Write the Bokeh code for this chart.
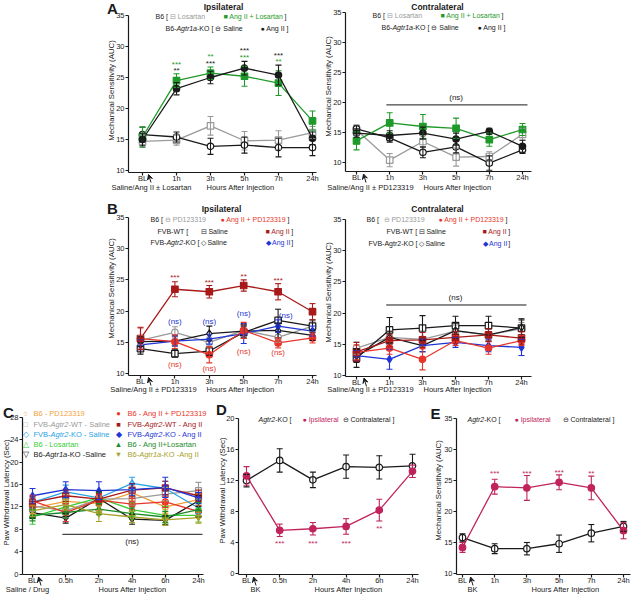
import math
from bokeh.plotting import figure
from bokeh.layouts import row, column
from bokeh.models import (ColumnDataSource, Whisker, TeeHead, Label, Arrow,
                          VeeHead, FixedTicker, Range1d)
from bokeh.embed import file_html
from bokeh.resources import INLINE

# ------------------------------------------------------------------ data
TICKS_AB = ["BL", "1h", "3h", "5h", "7h", "24h"]
TICKS_C = ["BL", "0.5h", "2h", "4h", "6h", "24h"]
YTICKS_AUC = [10, 15, 20, 25, 30, 35]
YTICKS_C = [0, 4, 8, 12, 16, 20, 24, 28]
YTICKS_D = [0, 4, 8, 12, 16, 20]

# A - ipsilateral
A_IPSI_LOSARTAN = [14.7, 14.9, 17.2, 14.8, 14.9, 16.1]
A_IPSI_LOSARTAN_SEM = [1.0, 0.8, 1.5, 1.5, 1.5, 1.0]
A_IPSI_ANG_LOS = [15.4, 24.5, 25.7, 25.2, 24.1, 18.0]
A_IPSI_ANG_LOS_SEM = [1.6, 1.1, 1.0, 1.6, 2.0, 1.6]
A_IPSI_KO_SALINE = [15.8, 15.4, 13.9, 14.1, 13.7, 13.7]
A_IPSI_KO_SALINE_SEM = [1.2, 0.8, 1.3, 1.3, 1.5, 1.3]
A_IPSI_KO_ANG = [15.0, 23.2, 25.0, 26.5, 25.4, 15.2]
A_IPSI_KO_ANG_SEM = [1.0, 1.0, 1.0, 1.1, 1.6, 1.0]
# A - contralateral
A_CONTRA_LOSARTAN = [15.4, 10.4, 13.5, 10.9, 11.0, 14.7]
A_CONTRA_LOSARTAN_SEM = [0.8, 1.1, 1.0, 1.5, 0.8, 1.0]
A_CONTRA_ANG_LOS = [13.6, 16.6, 16.0, 15.7, 13.8, 15.5]
A_CONTRA_ANG_LOS_SEM = [1.5, 1.7, 2.0, 1.7, 1.1, 1.0]
A_CONTRA_KO_SALINE = [15.6, 14.1, 11.7, 12.6, 9.9, 12.1]
A_CONTRA_KO_SALINE_SEM = [0.6, 0.7, 0.9, 1.0, 1.2, 0.6]
A_CONTRA_KO_ANG = [14.9, 14.5, 14.9, 13.9, 15.2, 12.7]
A_CONTRA_KO_ANG_SEM = [0.7, 0.8, 1.0, 1.0, 0.5, 1.0]

# B - ipsilateral
B_IPSI_PD = [15.3, 16.6, 15.0, 16.9, 15.8, 17.6]
B_IPSI_PD_SEM = [0.7, 0.9, 0.8, 1.0, 0.8, 0.8]
B_IPSI_ANG_PD = [15.6, 15.1, 13.0, 16.9, 14.9, 15.7]
B_IPSI_ANG_PD_SEM = [1.7, 1.1, 1.3, 1.3, 0.8, 0.8]
B_IPSI_WT_SALINE = [14.0, 13.2, 13.6, 16.6, 18.5, 17.6]
B_IPSI_WT_SALINE_SEM = [0.9, 0.6, 0.7, 1.0, 1.8, 1.0]
B_IPSI_WT_ANG = [15.6, 23.5, 23.1, 24.1, 23.1, 19.9]
B_IPSI_WT_ANG_SEM = [1.8, 1.2, 1.0, 0.9, 1.3, 1.3]
B_IPSI_KO_SALINE = [15.1, 15.2, 16.4, 16.8, 16.9, 16.1]
B_IPSI_KO_SALINE_SEM = [0.8, 0.8, 1.2, 1.0, 1.2, 0.8]
B_IPSI_KO_ANG = [14.6, 15.2, 15.5, 16.4, 17.6, 16.8]
B_IPSI_KO_ANG_SEM = [0.8, 0.8, 0.8, 1.6, 1.0, 0.8]
# B - contralateral
B_CONTRA_PD = [14.4, 16.1, 15.8, 17.1, 16.5, 17.5]
B_CONTRA_PD_SEM = [1.0, 1.0, 1.2, 1.0, 0.9, 1.0]
B_CONTRA_ANG_PD = [13.7, 14.4, 12.6, 15.6, 14.4, 15.6]
B_CONTRA_ANG_PD_SEM = [1.2, 1.0, 1.7, 0.8, 1.0, 0.8]
B_CONTRA_WT_SALINE = [12.8, 17.3, 17.6, 18.0, 18.0, 17.6]
B_CONTRA_WT_SALINE_SEM = [1.5, 2.0, 2.0, 1.5, 1.5, 1.5]
B_CONTRA_WT_ANG = [13.8, 15.6, 15.7, 16.1, 16.5, 16.0]
B_CONTRA_WT_ANG_SEM = [1.5, 1.0, 1.2, 1.0, 1.0, 1.0]
B_CONTRA_KO_SALINE = [13.1, 16.1, 14.8, 17.2, 16.5, 17.7]
B_CONTRA_KO_SALINE_SEM = [1.0, 1.0, 1.0, 1.2, 1.0, 1.2]
B_CONTRA_KO_ANG = [13.2, 12.6, 14.8, 15.3, 14.8, 14.5]
B_CONTRA_KO_ANG_SEM = [0.8, 1.6, 1.0, 0.8, 1.0, 1.3]

# C - paw withdrawal latency (sec)
C_B6_PD = [11.8, 13.0, 12.6, 14.5, 12.0, 13.3]
C_B6_PD_SEM = [1.0, 1.2, 1.2, 1.3, 1.1, 1.0]
C_WT_SALINE = [12.2, 11.3, 13.4, 13.5, 14.3, 14.9]
C_WT_SALINE_SEM = [1.0, 1.2, 1.1, 1.2, 1.2, 1.5]
C_KO_SALINE = [12.8, 14.7, 13.6, 16.2, 15.3, 11.8]
C_KO_SALINE_SEM = [1.0, 1.2, 1.0, 1.1, 1.3, 1.0]
C_B6_LOS = [10.2, 12.0, 13.6, 11.5, 10.5, 10.5]
C_B6_LOS_SEM = [1.3, 1.0, 1.0, 1.2, 1.6, 1.2]
C_AT1KO_SALINE = [11.0, 10.0, 13.5, 9.8, 9.6, 13.1]
C_AT1KO_SALINE_SEM = [1.0, 0.9, 1.2, 0.9, 0.8, 1.0]
C_B6_ANG_PD = [13.1, 11.0, 13.2, 12.5, 12.9, 11.2]
C_B6_ANG_PD_SEM = [1.0, 1.6, 1.0, 1.0, 1.0, 1.0]
C_WT_ANG = [12.8, 14.0, 13.4, 15.0, 15.4, 14.0]
C_WT_ANG_SEM = [1.0, 1.0, 1.0, 1.2, 1.2, 1.0]
C_KO_ANG = [14.0, 15.1, 14.9, 15.1, 15.5, 13.6]
C_KO_ANG_SEM = [1.3, 1.4, 1.6, 1.0, 1.8, 1.0]
C_B6_ANG_LOS = [10.5, 11.0, 11.6, 10.8, 10.2, 11.5]
C_B6_ANG_LOS_SEM = [1.0, 1.0, 1.0, 1.0, 1.0, 1.3]
C_AT1KO_ANG = [11.3, 12.4, 10.8, 10.2, 9.7, 10.1]
C_AT1KO_ANG_SEM = [1.0, 1.0, 1.4, 1.0, 1.0, 1.0]

# D - Agtr2-KO, bradykinin, paw withdrawal latency
D_IPSI = [12.6, 5.6, 5.8, 6.1, 8.2, 13.2]
D_IPSI_SEM = [1.2, 0.8, 0.8, 1.0, 1.4, 0.8]
D_CONTRA = [12.0, 14.6, 12.1, 13.8, 13.7, 13.9]
D_CONTRA_SEM = [0.8, 1.5, 1.0, 1.5, 1.5, 1.5]

# E - Agtr2-KO, bradykinin, mechanical sensitivity
E_IPSI = [14.2, 24.0, 23.8, 24.7, 23.8, 16.9]
E_IPSI_SEM = [0.8, 1.2, 2.0, 1.2, 1.9, 1.3]
E_CONTRA = [15.8, 14.0, 14.0, 14.8, 16.5, 17.6]
E_CONTRA_SEM = [0.6, 0.8, 1.0, 1.4, 1.4, 0.8]

# ------------------------------------------------------------------ style
FONT = "Liberation Sans"
K = "#1a1a1a"
GRAY = "#9a9a9a"
GREEN = "#1f9a2a"
RED = "#e8352b"
DARKRED = "#a81a1a"
BLUE = "#1f35d6"
CRIMSON = "#c0245c"
ORANGE = "#f2a23a"
LBLUE = "#2aa3e6"
LGREEN = "#36cf36"
DGREEN = "#1b8a27"
OLIVE = "#a9a22a"

CW = {' ': 278, '(': 333, ')': 333, '*': 389, '+': 584, '-': 333, '.': 278,
      '/': 278, '[': 278, ']': 278, '±': 584,
      'A': 667, 'B': 667, 'C': 722, 'D': 722, 'E': 667, 'F': 611, 'G': 778,
      'H': 722, 'I': 278, 'K': 667, 'L': 556, 'M': 833, 'N': 722, 'O': 778,
      'P': 667, 'R': 722, 'S': 667, 'T': 611, 'U': 722, 'V': 667, 'W': 944,
      'a': 556, 'b': 556, 'c': 500, 'd': 556, 'e': 556, 'f': 278, 'g': 556,
      'h': 556, 'i': 222, 'j': 222, 'k': 500, 'l': 222, 'm': 833, 'n': 556,
      'o': 556, 'p': 556, 'r': 333, 's': 500, 't': 278, 'u': 556, 'v': 500,
      'w': 722, 'y': 500}

LEG = 7.0   # legend font size (px)


def tw(s, size):
    return sum(CW.get(ch, 556 if ch.isdigit() else 800) for ch in s) / 1000.0 * size


class Panel:
    """A figure whose frame fills the whole canvas; axes sit at fixed locations.
    All geometry arguments are page pixels."""

    def __init__(self, cx0, cy0, w, h, yaxis_px, xaxis_px, xend_px, xbl, x24,
                 ytop, ytop_px, ybot, ybot_px, yticks, xlabels):
        self.cx0, self.cy0, self.w, self.h = cx0, cy0, w, h
        ppx = (x24 - xbl) / 5.0
        xs = -(xbl - cx0) / ppx
        xe = 5 + (cx0 + w - x24) / ppx
        ppy = (ybot_px - ytop_px) / (ytop - ybot)
        yhi = ytop + (ytop_px - cy0) / ppy
        ylo = ybot - (cy0 + h - ybot_px) / ppy
        yax = (yaxis_px - xbl) / ppx
        xax = ybot - (xaxis_px - ybot_px) / ppy
        xend = (xend_px - xbl) / ppx
        p = figure(width=w, height=h, x_range=Range1d(xs, xe),
                   y_range=Range1d(ylo, yhi), output_backend="svg",
                   toolbar_location=None, min_border=0, min_border_left=0,
                   min_border_right=0, min_border_top=0, min_border_bottom=0,
                   outline_line_color=None,
                   background_fill_color="white", border_fill_color="white")
        p.xgrid.visible = False
        p.ygrid.visible = False
        for ax in (p.xaxis[0], p.yaxis[0]):
            ax.axis_line_width = 1.2
            ax.axis_line_color = K
            ax.major_tick_line_width = 1.2
            ax.major_tick_line_color = K
            ax.major_tick_out = 3
            ax.major_tick_in = 0
            ax.minor_tick_out = 0
            ax.minor_tick_in = 0
            ax.major_label_text_font = FONT
            ax.major_label_text_font_size = "7.5px"
            ax.major_label_text_color = K
        p.xaxis.major_label_standoff = -2
        p.yaxis.major_label_standoff = 1
        p.xaxis.ticker = FixedTicker(ticks=list(range(len(xlabels))))
        p.xaxis.major_label_overrides = {i: s for i, s in enumerate(xlabels)}
        p.xaxis.fixed_location = xax
        p.xaxis.bounds = (yax, xend)
        p.yaxis.ticker = FixedTicker(ticks=yticks)
        p.yaxis.fixed_location = yax
        p.yaxis.bounds = (xax, ytop)
        self.p = p

    def sx(self, x):
        return x - self.cx0

    def sy(self, y):
        return self.cy0 + self.h - y

    def text(self, x, y, s, color=K, size=7.5, style="normal", align="left", angle=0.0):
        self.p.add_layout(Label(x=self.sx(x), y=self.sy(y), x_units="screen",
                                y_units="screen", text=s, text_font=FONT,
                                text_font_size=f"{size}px", text_font_style=style,
                                text_color=color, text_align=align,
                                text_baseline="middle", angle=angle))

    def legend_row(self, y, pieces, size=LEG):
        cur = None
        for x, s, color, style in pieces:
            x = x if x is not None else cur
            self.text(x, y, s, color, size, style)
            cur = x + tw(s, size)

    def ytitle(self, x, y, s, size=7.8):
        self.text(x, y, s, size=size, align="center", angle=math.pi / 2)

    def arrow(self, tail, tip):
        self.p.add_layout(Arrow(
            x_start=self.sx(tail[0]), y_start=self.sy(tail[1]),
            x_end=self.sx(tip[0]), y_end=self.sy(tip[1]),
            start_units="screen", end_units="screen", line_color=K, line_width=1,
            end=VeeHead(size=5, line_color=K, fill_color=K, line_width=1)))

    def series(self, vals, sem, color, marker, filled=True, size=6.5):
        x = list(range(len(vals)))
        src = ColumnDataSource(dict(x=x, y=vals,
                                    upper=[v + e for v, e in zip(vals, sem)],
                                    lower=[v - e for v, e in zip(vals, sem)]))
        self.p.line("x", "y", source=src, line_color=color, line_width=1.3)
        self.p.add_layout(Whisker(source=src, base="x", upper="upper", lower="lower",
                                  line_color=color, line_width=1.1, level="glyph",
                                  upper_head=TeeHead(size=6, line_color=color, line_width=1.1),
                                  lower_head=TeeHead(size=6, line_color=color, line_width=1.1)))
        self.p.scatter("x", "y", source=src, marker=marker, size=size,
                       fill_color=color if filled else "white",
                       line_color=color, line_width=1.2)

    def note(self, xi, yv, s, color=K, size=8, yoff=-2):
        self.p.add_layout(Label(x=xi, y=yv, text=s, text_font=FONT,
                                text_font_size=f"{size}px", text_color=color,
                                text_align="center", text_baseline="middle",
                                y_offset=yoff))

    def bar(self, x0, x1, yv, label_x, label_y):
        self.p.line([x0, x1], [yv, yv], line_color=K, line_width=1)
        self.note(label_x, label_y, "(ns)", size=8, yoff=0)


# ------------------------------------------------------------------ panel A
a1 = Panel(0, 0, 322, 196, 128, 172, 316, 142, 312, 35, 15, 10, 170, YTICKS_AUC, TICKS_AB)
a1.series(A_IPSI_LOSARTAN, A_IPSI_LOSARTAN_SEM, GRAY, "square", filled=False)
a1.series(A_IPSI_KO_SALINE, A_IPSI_KO_SALINE_SEM, K, "circle", filled=False)
a1.series(A_IPSI_ANG_LOS, A_IPSI_ANG_LOS_SEM, GREEN, "square")
a1.series(A_IPSI_KO_ANG, A_IPSI_KO_ANG_SEM, K, "circle")
for xi, yv, s, c in [(1, 27.5, "***", GREEN), (1, 26.4, "**", K),
                     (2, 28.7, "**", GREEN), (2, 27.6, "***", K),
                     (3, 29.6, "***", K), (3, 28.5, "***", GREEN),
                     (4, 28.9, "***", K), (4, 27.9, "**", GREEN)]:
    a1.note(xi, yv, s, c)
a1.text(112, 8, "A", size=15, style="bold", align="center")
a1.text(223, 6, "Ipsilateral", size=8.5, style="bold", align="center")
a1.legend_row(16, [(155, "B6 [ ", K, "normal"), (None, "⊟ Losartan", GRAY, "normal"),
                   (223, "■ Ang II + Losartan", GREEN, "normal"), (None, " ]", K, "normal")])
a1.legend_row(28, [(165, "B6-", K, "normal"), (None, "Agtr1a", K, "italic"),
                   (None, "-KO [ ", K, "normal"), (None, "⊖ Saline", K, "normal"),
                   (260, "● Ang II ]", K, "normal")])
a1.ytitle(111, 90, "Mechanical Sensitivity (AUC)")
a1.text(151, 187, "Saline/Ang II ± Losartan", align="center")
a1.text(240, 187, "Hours After Injection", align="center")
a1.arrow((150.5, 182), (148, 174))

a2 = Panel(322, 0, 318, 196, 345, 171, 531, 356, 522, 35, 12, 10, 162, YTICKS_AUC, TICKS_AB)
a2.series(A_CONTRA_LOSARTAN, A_CONTRA_LOSARTAN_SEM, GRAY, "square", filled=False)
a2.series(A_CONTRA_KO_SALINE, A_CONTRA_KO_SALINE_SEM, K, "circle", filled=False)
a2.series(A_CONTRA_ANG_LOS, A_CONTRA_ANG_LOS_SEM, GREEN, "square")
a2.series(A_CONTRA_KO_ANG, A_CONTRA_KO_ANG_SEM, K, "circle")
a2.bar(0.9, 5.15, 19.6, 3, 20.9)
a2.text(437, 6, "Contralateral", size=8.5, style="bold", align="center")
a2.legend_row(15, [(372, "B6 [ ", K, "normal"), (None, "⊟ Losartan", GRAY, "normal"),
                   (440, "■ Ang II + Losartan", GREEN, "normal"), (None, " ]", K, "normal")])
a2.legend_row(27, [(381, "B6-", K, "normal"), (None, "Agtr1a", K, "italic"),
                   (None, "-KO [ ", K, "normal"), (None, "⊖ Saline", K, "normal"),
                   (477, "● Ang II ]", K, "normal")])
a2.ytitle(328, 86, "Mechanical Sensitivity (AUC)")
a2.text(370, 187, "Saline/Ang II ± PD123319", align="center")
a2.text(457, 187, "Hours After Injection", align="center")
a2.arrow((365.5, 182), (363, 173.5))

# ------------------------------------------------------------------ panel B
b1 = Panel(0, 196, 322, 200, 128, 375, 316, 140, 312, 35, 217, 10, 373, YTICKS_AUC, TICKS_AB)
b1.series(B_IPSI_PD, B_IPSI_PD_SEM, GRAY, "circle", filled=False)
b1.series(B_IPSI_WT_SALINE, B_IPSI_WT_SALINE_SEM, K, "square", filled=False)
b1.series(B_IPSI_KO_SALINE, B_IPSI_KO_SALINE_SEM, K, "diamond", filled=False, size=7.5)
b1.series(B_IPSI_KO_ANG, B_IPSI_KO_ANG_SEM, BLUE, "diamond", size=7.5)
b1.series(B_IPSI_ANG_PD, B_IPSI_ANG_PD_SEM, RED, "circle")
b1.series(B_IPSI_WT_ANG, B_IPSI_WT_ANG_SEM, DARKRED, "square")
for xi, yv, s in [(1, 25.7, "***"), (2, 24.9, "***"), (3, 25.9, "**"), (4, 25.2, "***")]:
    b1.note(xi, yv, s, DARKRED)
for xi, yv in [(1, 18.3), (2, 18.3), (3, 19.6), (4.22, 19.3)]:
    b1.note(xi, yv, "(ns)", BLUE, size=8, yoff=0)
for xi, yv in [(1, 11.4), (2, 10.75), (3, 13.5), (4, 13.3)]:
    b1.note(xi, yv, "(ns)", RED, size=8, yoff=0)
b1.text(112, 208, "B", size=15, style="bold", align="center")
b1.text(221, 208, "Ipsilateral", size=8.5, style="bold", align="center")
b1.legend_row(219, [(150, "B6 [ ", K, "normal"), (None, "⊖ PD123319", GRAY, "normal"),
                    (220, "● Ang II + PD123319", RED, "normal"), (None, " ]", K, "normal")])
b1.legend_row(231, [(157, "FVB-WT [", K, "normal"), (200, "⊟ Saline", K, "normal"),
                    (265, "■ Ang II", DARKRED, "normal"), (None, " ]", K, "normal")])
b1.legend_row(242, [(150, "FVB-", K, "normal"), (None, "Agtr2", K, "italic"),
                    (None, "-KO [", K, "normal"), (200, "◇ Saline", K, "normal"),
                    (265, "◆ Ang II", BLUE, "normal"), (None, " ]", K, "normal")])
b1.ytitle(111, 288, "Mechanical Sensitivity (AUC)")
b1.text(153, 389, "Saline/Ang II ± PD123319", align="center")
b1.text(240, 389, "Hours After Injection", align="center")
b1.arrow((150.5, 385), (148, 377))

b2 = Panel(322, 196, 318, 200, 345, 376, 531, 356, 521, 35, 219, 10, 375, YTICKS_AUC, TICKS_AB)
b2.series(B_CONTRA_PD, B_CONTRA_PD_SEM, GRAY, "circle", filled=False)
b2.series(B_CONTRA_WT_SALINE, B_CONTRA_WT_SALINE_SEM, K, "square", filled=False)
b2.series(B_CONTRA_KO_SALINE, B_CONTRA_KO_SALINE_SEM, K, "diamond", filled=False, size=7.5)
b2.series(B_CONTRA_KO_ANG, B_CONTRA_KO_ANG_SEM, BLUE, "diamond", size=7.5)
b2.series(B_CONTRA_ANG_PD, B_CONTRA_ANG_PD_SEM, RED, "circle")
b2.series(B_CONTRA_WT_ANG, B_CONTRA_WT_ANG_SEM, DARKRED, "square")
b2.bar(0.9, 5.15, 21.3, 3, 22.5)
b2.text(437, 208, "Contralateral", size=8.5, style="bold", align="center")
b2.legend_row(219, [(366, "B6 [ ", K, "normal"), (383, "⊖ PD123319", GRAY, "normal"),
                    (438, "● Ang II + PD123319", RED, "normal"), (None, " ]", K, "normal")])
b2.legend_row(231, [(386, "FVB-WT [", K, "normal"), (418, "⊟ Saline", K, "normal"),
                    (482, "■ Ang II", DARKRED, "normal"), (None, " ]", K, "normal")])
b2.legend_row(243, [(368, "FVB-Agtr2-KO [", K, "normal"), (418, "◇ Saline", K, "normal"),
                    (482, "◆ Ang II", BLUE, "normal"), (None, " ]", K, "normal")])
b2.ytitle(328, 292, "Mechanical Sensitivity (AUC)")
b2.text(370, 389, "Saline/Ang II ± PD123319", align="center")
b2.text(457, 389, "Hours After Injection", align="center")
b2.arrow((366, 386), (363.5, 377.5))

# ------------------------------------------------------------------ panel C
c = Panel(0, 396, 214, 198, 22, 574, 203, 32, 198, 28, 417, 0, 573.5, YTICKS_C, TICKS_C)
c.series(C_B6_PD, C_B6_PD_SEM, ORANGE, "circle", filled=False, size=6)
c.series(C_WT_SALINE, C_WT_SALINE_SEM, GRAY, "square", filled=False, size=6)
c.series(C_KO_SALINE, C_KO_SALINE_SEM, LBLUE, "diamond", filled=False, size=7)
c.series(C_B6_LOS, C_B6_LOS_SEM, LGREEN, "triangle", filled=False, size=6)
c.series(C_AT1KO_SALINE, C_AT1KO_SALINE_SEM, K, "inverted_triangle", filled=False, size=6)
c.series(C_B6_ANG_PD, C_B6_ANG_PD_SEM, RED, "circle", size=6)
c.series(C_WT_ANG, C_WT_ANG_SEM, DARKRED, "square", size=6)
c.series(C_KO_ANG, C_KO_ANG_SEM, BLUE, "diamond", size=7)
c.series(C_B6_ANG_LOS, C_B6_ANG_LOS_SEM, DGREEN, "triangle", size=6)
c.series(C_AT1KO_ANG, C_AT1KO_ANG_SEM, OLIVE, "inverted_triangle", size=6)
c.bar(0.9, 5.12, 7.1, 3, 5.9)
c.text(8, 412, "C", size=15, style="bold", align="center")
LEG_Y = [413, 423.5, 434, 444, 454]
left_items = [
    ("○", [("B6 - PD123319", "normal")], ORANGE),
    ("□", [("FVB-", "normal"), ("Agtr2", "italic"), ("-WT - Saline", "normal")], GRAY),
    ("◇", [("FVB-", "normal"), ("Agtr2", "italic"), ("-KO - Saline", "normal")], LBLUE),
    ("△", [("B6 - Losartan", "normal")], LGREEN),
    ("▽", [("B6-", "normal"), ("Agtr1a", "italic"), ("-KO -Saline", "normal")], K),
]
right_items = [
    ("●", [("B6 - Ang II + PD123319", "normal")], RED),
    ("■", [("FVB-", "normal"), ("Agtr2", "italic"), ("-WT - Ang II", "normal")], DARKRED),
    ("◆", [("FVB-", "normal"), ("Agtr2", "italic"), ("-KO - Ang II", "normal")], BLUE),
    ("▲", [("B6 - Ang II+Losartan", "normal")], DGREEN),
    ("▼", [("B6-", "normal"), ("Agtr1a", "italic"), ("-KO -Ang II", "normal")], OLIVE),
]
for items, mx, tx in [(left_items, 25, 33), (right_items, 118, 127)]:
    for ry, (sym, parts, col) in zip(LEG_Y, items):
        c.text(mx, ry, sym, col, size=7.5, align="center")
        c.legend_row(ry, [(tx if i == 0 else None, s, col, st)
                          for i, (s, st) in enumerate(parts)], size=7.5)
c.ytitle(6, 492, "Paw Withdrawal Latency (Sec)")
c.text(27, 589, "Saline / Drug", align="center")
c.text(132, 589, "Hours After Injection", align="center")
c.arrow((40.5, 585), (38, 576.5))

# ------------------------------------------------------------------ panel D
d = Panel(214, 396, 210, 198, 238, 574, 418, 246, 412, 20, 418, 0, 573.3, YTICKS_D, TICKS_C)
d.series(D_CONTRA, D_CONTRA_SEM, K, "circle", filled=False)
d.series(D_IPSI, D_IPSI_SEM, CRIMSON, "circle")
for xi, yv, s in [(1, 4.1, "***"), (2, 4.1, "***"), (3, 4.1, "***"), (4, 6.1, "**")]:
    d.note(xi, yv, s, CRIMSON)
d.text(221, 409, "D", size=15, style="bold", align="center")
d.legend_row(419, [(258, "Agtr2", K, "italic"), (None, "-KO [", K, "normal"),
                   (302, "● Ipsilateral", CRIMSON, "normal"),
                   (342, "⊖ Contralateral ]", K, "normal")])
d.ytitle(222, 490, "Paw Withdrawal Latency (Sec)")
d.text(255, 589, "BK", align="center")
d.text(348, 589, "Hours After Injection", align="center")
d.arrow((255.5, 585), (253, 576.5))

# ------------------------------------------------------------------ panel E
e = Panel(424, 396, 216, 198, 456, 574, 630, 462, 623, 35, 418, 10, 573, YTICKS_AUC, TICKS_AB)
e.series(E_CONTRA, E_CONTRA_SEM, K, "circle", filled=False)
e.series(E_IPSI, E_IPSI_SEM, CRIMSON, "circle")
for xi, yv, s in [(1, 26.5, "***"), (2, 26.5, "***"), (3, 26.6, "***"), (4, 26.5, "**")]:
    e.note(xi, yv, s, CRIMSON)
e.text(435, 413, "E", size=15, style="bold", align="center")
e.legend_row(419, [(467, "Agtr2", K, "italic"), (None, "-KO [", K, "normal"),
                   (514, "● Ipsilateral", CRIMSON, "normal"),
                   (562, "⊖ Contralateral ]", K, "normal")])
e.ytitle(438, 490, "Mechanical Sensitivity (AUC)")
e.text(472, 589, "BK", align="center")
e.text(565, 589, "Hours After Injection", align="center")
e.arrow((472.5, 585), (470, 576.5))

layout = column(row(a1.p, a2.p), row(b1.p, b2.p), row(c.p, d.p, e.p))
open("out.html", "w").write(file_html(layout, INLINE))
